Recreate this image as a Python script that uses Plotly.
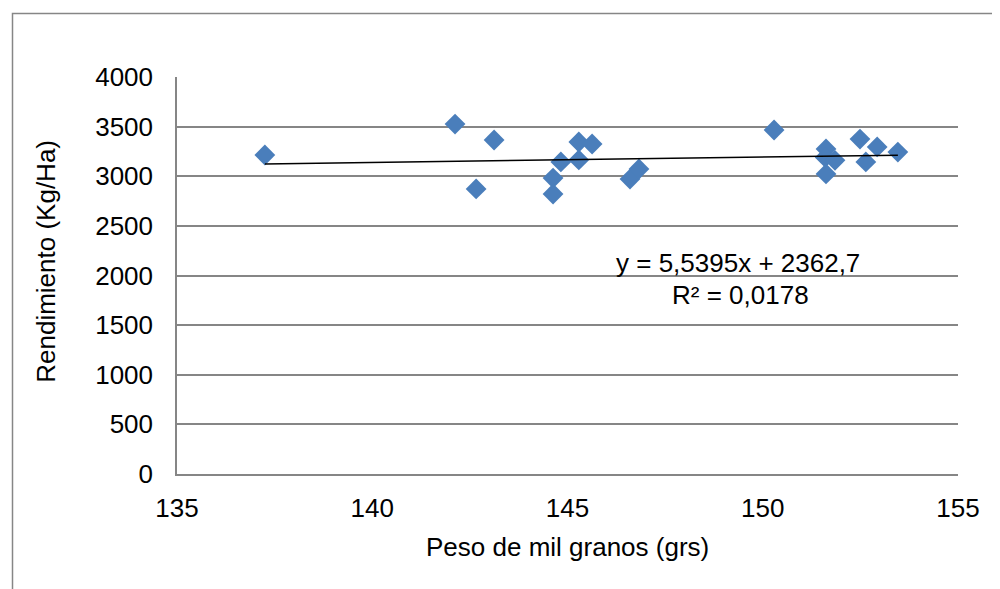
import plotly.graph_objects as go

# Data
peso = [137.25, 142.12, 143.12, 142.66, 144.63, 144.63, 144.83, 145.29, 145.29,
        145.63, 146.60, 146.83, 150.29, 151.62, 151.60, 151.85, 151.62, 152.49,
        152.64, 152.93, 153.46]
rendimiento = [3214, 3526, 3365, 2872, 2982, 2821, 3144, 3345, 3164,
               3325, 2972, 3073, 3466, 3275, 3190, 3160, 3023, 3375,
               3144, 3295, 3244]

# Trendline coefficients (as labelled on the chart)
slope = 5.5395
intercept = 2362.7
r2_label = "R² = 0,0178"
eq_label = "y = 5,5395x + 2362,7"

x_ticks = [135, 140, 145, 150, 155]
y_ticks = [0, 500, 1000, 1500, 2000, 2500, 3000, 3500, 4000]

FONT = "Liberation Sans, Arial, sans-serif"
FS = 26

xmin, xmax = min(peso), max(peso)
trend_x = [xmin, xmax]
trend_y = [slope * v + intercept for v in trend_x]

fig = go.Figure()
fig.add_trace(go.Scatter(
    x=peso, y=rendimiento, mode="markers",
    marker=dict(symbol="diamond", size=16, color="#4A7EBB",
                line=dict(width=0)),
    showlegend=False, hoverinfo="x+y"))
fig.add_trace(go.Scatter(
    x=trend_x, y=trend_y, mode="lines",
    line=dict(color="black", width=1.5),
    showlegend=False, hoverinfo="skip"))

# page offset (browser body margin)
OFF = 8
W, H = 1000 - OFF, 589 - OFF
# plot area in page pixels: left 177, right 958, top 77.3, bottom 474.3
L = 177 - OFF
T = 77 - OFF
R = W - (958 - OFF)
B = H - (474.5 - OFF)
pw = W - L - R
ph = H - T - B

def px_x(px):
    return (px - OFF - L) / pw

def px_y(py):
    return (H - B - (py - OFF)) / ph

fig.update_layout(
    width=W, height=H,
    margin=dict(l=L, r=R, t=T, b=B),
    paper_bgcolor="white", plot_bgcolor="white",
    font=dict(family=FONT, size=FS, color="black"),
    xaxis=dict(range=[135, 155], tickvals=x_ticks, ticktext=[str(v) for v in x_ticks],
               showgrid=False, zeroline=False, showline=True,
               linecolor="#868686", linewidth=1.5, ticks="",
               ticklabelstandoff=10, tickfont=dict(size=FS)),
    yaxis=dict(range=[0, 4000], tickvals=y_ticks, ticktext=[str(v) for v in y_ticks],
               showgrid=True, gridcolor="#868686", gridwidth=1.5,
               zeroline=False, showline=True, linecolor="#868686", linewidth=1.5,
               ticks="", ticklabelstandoff=17, tickfont=dict(size=FS)),
    annotations=[
        dict(text="Peso de mil granos (grs)", xref="paper", yref="paper",
             x=px_x(567.5), y=px_y(548), showarrow=False,
             xanchor="center", yanchor="middle", font=dict(size=FS)),
        dict(text="Rendimiento (Kg/Ha)", xref="paper", yref="paper",
             x=px_x(46), y=px_y(262), showarrow=False,
             textangle=-90, xanchor="center", yanchor="middle", font=dict(size=FS)),
        dict(text=eq_label, xref="paper", yref="paper",
             x=px_x(738), y=px_y(263), showarrow=False,
             xanchor="center", yanchor="middle", font=dict(size=FS)),
        dict(text=r2_label, xref="paper", yref="paper",
             x=px_x(740), y=px_y(295), showarrow=False,
             xanchor="center", yanchor="middle", font=dict(size=FS)),
    ],
    shapes=[
        dict(type="rect", xref="paper", yref="paper",
             x0=px_x(12.5), x1=px_x(1010),
             y0=px_y(600), y1=px_y(13.5),
             line=dict(color="#868686", width=1.5), fillcolor="rgba(0,0,0,0)",
             layer="below"),
    ],
)

fig.write_html("out.html")
